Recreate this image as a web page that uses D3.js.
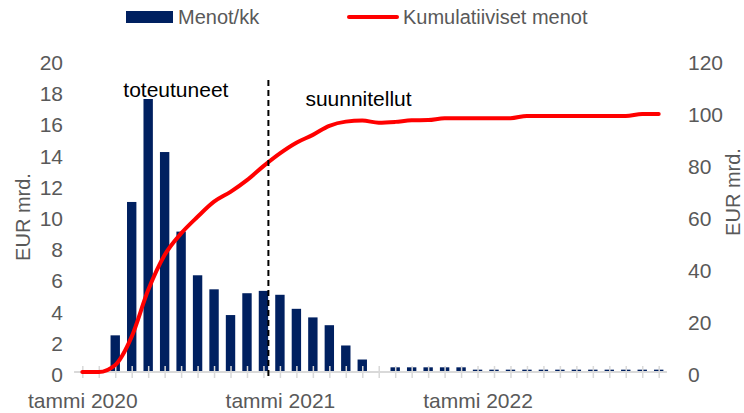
<!DOCTYPE html>
<html>
<head>
<meta charset="utf-8">
<script src="https://cdn.jsdelivr.net/npm/d3@7"></script>
<style>
  body { margin: 0; background: #fff; }
  text { font-family: "Liberation Sans", Arial, sans-serif; }
</style>
</head>
<body>
<svg width="744" height="413"></svg>
<script>
var months = ["2020-01","2020-02","2020-03","2020-04","2020-05","2020-06","2020-07","2020-08","2020-09","2020-10","2020-11","2020-12",
              "2021-01","2021-02","2021-03","2021-04","2021-05","2021-06","2021-07","2021-08","2021-09","2021-10","2021-11","2021-12",
              "2022-01","2022-02","2022-03","2022-04","2022-05","2022-06","2022-07","2022-08","2022-09","2022-10","2022-11","2022-12"];

// EUR mrd. per month
var menot = [0, 0, 2.35, 10.9, 17.5, 14.1, 9.0, 6.2, 5.3, 3.65, 5.05, 5.2,
             4.95, 4.05, 3.5, 3.0, 1.7, 0.8, 0.05, 0.3, 0.3, 0.3, 0.3, 0.3,
             0.15, 0.15, 0.15, 0.15, 0.15, 0.15, 0.15, 0.15, 0.15, 0.15, 0.15, 0.15];

// cumulative, right axis
var kumulatiivinen = [0, 0, 2.7, 13.6, 31.5, 45, 53.3, 59.7, 65.5, 69.3, 73.8, 79.2,
                      84.1, 88.2, 91.2, 94.7, 96.3, 96.7, 95.9, 96.2, 96.8, 96.9, 97.6, 97.6,
                      97.6, 97.6, 97.6, 98.5, 98.5, 98.5, 98.5, 98.5, 98.5, 98.5, 99.2, 99.2];

var tickMonths = ["2020-01", "2021-01", "2022-01"];
var tickLabels = ["tammi 2020", "tammi 2021", "tammi 2022"];
var leftTicks = [0, 2, 4, 6, 8, 10, 12, 14, 16, 18, 20];
var rightTicks = [0, 20, 40, 60, 80, 100, 120];
var splitMonth = "2020-12";

var svg = d3.select("svg");
var grey = "#595959";

var x = d3.scalePoint().domain(months).range([82.3, 658.7]);
var step = x.step();
var yL = d3.scaleLinear().domain([0, 20]).range([372, 60]);
var yR = d3.scaleLinear().domain([0, 120]).range([372, 60]);

// bars
var barW = step * 0.57;
svg.append("g").selectAll("rect")
  .data(months)
  .enter().append("rect")
  .attr("x", function(d) { return x(d) - barW / 2; })
  .attr("y", function(d, i) { return yL(menot[i]); })
  .attr("width", barW)
  .attr("height", function(d, i) { return yL(0) - yL(menot[i]); })
  .style("fill", "#002060");

// x axis
svg.append("line")
  .attr("x1", x(months[0]) - step / 2)
  .attr("x2", x(months[months.length - 1]) + step / 2)
  .attr("y1", yL(0)).attr("y2", yL(0))
  .style("stroke", "#d9d9d9").style("stroke-width", 2);

var xAxis = svg.append("g")
  .attr("transform", "translate(0," + yL(0) + ")")
  .call(d3.axisBottom(x).tickSize(6).tickFormat(function(d) {
    var k = tickMonths.indexOf(d);
    return k < 0 ? "" : tickLabels[k];
  }));
xAxis.select(".domain").remove();
xAxis.selectAll(".tick line").attr("y1", -6).attr("y2", 6)
  .style("stroke", "#d9d9d9").style("stroke-width", 1.5);
xAxis.selectAll(".tick text")
  .attr("y", 36).attr("dy", 0)
  .style("font-size", "21px").style("fill", grey).style("font-family", "Liberation Sans, Arial, sans-serif");

// left axis
var lAxis = svg.append("g")
  .attr("transform", "translate(63,0)")
  .call(d3.axisLeft(yL).tickValues(leftTicks).tickSize(0).tickPadding(0));
lAxis.select(".domain").remove();
lAxis.selectAll("text").attr("dy", "0.45em")
  .style("font-size", "21px").style("fill", grey).style("font-family", "Liberation Sans, Arial, sans-serif");

// right axis
var rAxis = svg.append("g")
  .attr("transform", "translate(688,0)")
  .call(d3.axisRight(yR).tickValues(rightTicks).tickSize(0).tickPadding(0));
rAxis.select(".domain").remove();
rAxis.selectAll("text").attr("dy", "0.45em")
  .style("font-size", "21px").style("fill", grey).style("font-family", "Liberation Sans, Arial, sans-serif");

// axis titles
svg.append("text")
  .attr("transform", "translate(30,217) rotate(-90)")
  .attr("text-anchor", "middle")
  .style("font-size", "20px").style("fill", grey)
  .text("EUR mrd.");
svg.append("text")
  .attr("transform", "translate(740,192) rotate(-90)")
  .attr("text-anchor", "middle")
  .style("font-size", "20px").style("fill", grey)
  .text("EUR mrd.");

// cumulative line
var line = d3.line()
  .x(function(d, i) { return x(months[i]); })
  .y(function(d) { return yR(d); })
  .curve(d3.curveMonotoneX);
svg.append("path")
  .datum(kumulatiivinen)
  .attr("d", line)
  .style("fill", "none")
  .style("stroke", "#ff0000")
  .style("stroke-width", 4)
  .style("stroke-linecap", "round");

// split between realised and planned
var splitX = x(splitMonth) + step * 0.3;
svg.append("line")
  .attr("x1", splitX).attr("x2", splitX)
  .attr("y1", 80).attr("y2", 378)
  .style("stroke", "#000").style("stroke-width", 2)
  .style("stroke-dasharray", "6,4");

svg.append("text")
  .attr("x", splitX - 40).attr("y", 97)
  .attr("text-anchor", "end")
  .style("font-size", "21px").style("fill", "#000")
  .text("toteutuneet");
svg.append("text")
  .attr("x", splitX + 37).attr("y", 106)
  .style("font-size", "21px").style("fill", "#000")
  .text("suunnitellut");

// legend
svg.append("rect")
  .attr("x", 126).attr("y", 11)
  .attr("width", 47).attr("height", 12)
  .style("fill", "#002060");
svg.append("text")
  .attr("x", 178).attr("y", 24)
  .style("font-size", "20px").style("fill", grey)
  .text("Menot/kk");
svg.append("line")
  .attr("x1", 349).attr("x2", 397)
  .attr("y1", 17).attr("y2", 17)
  .style("stroke", "#ff0000").style("stroke-width", 4)
  .style("stroke-linecap", "round");
svg.append("text")
  .attr("x", 403).attr("y", 24)
  .style("font-size", "20px").style("fill", grey)
  .text("Kumulatiiviset menot");
</script>
</body>
</html>
